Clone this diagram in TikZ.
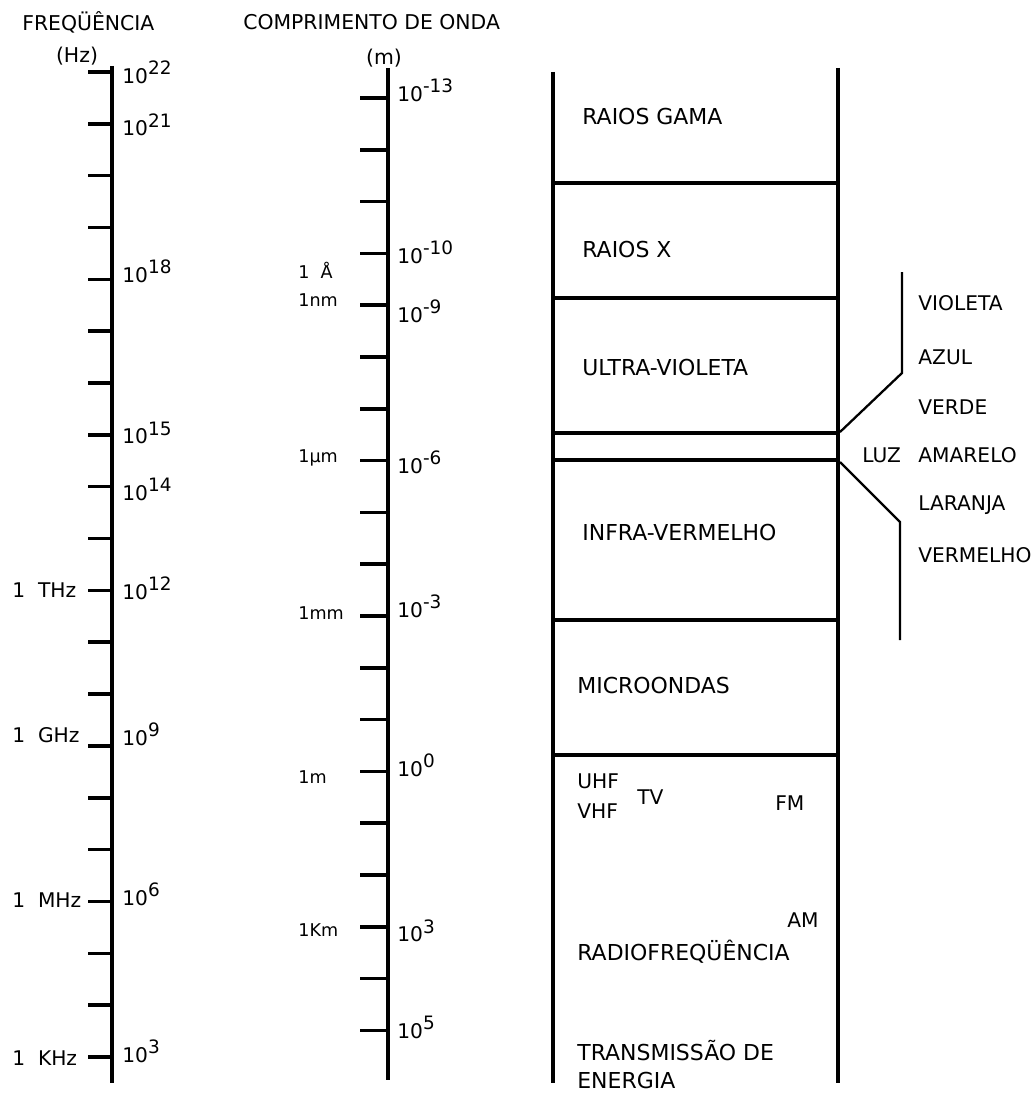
\documentclass[tikz,border=0pt]{standalone}
\usepackage{fontspec}
\setmainfont{DejaVu Sans}

\newcommand{\pot}[1]{10\raisebox{0.8ex}{\fontsize{10.5}{11}\selectfont #1}}

\begin{document}
\begin{tikzpicture}[x=0.02cm, y=-0.02cm,
    axisline/.style={line width=2pt},
    tickline/.style={line width=2pt},
    band/.style={line width=1.8pt},
    bracket/.style={line width=1.3pt},
    lbl/.style={inner sep=0pt, anchor=west, font=\fontsize{12.5}{14}\selectfont},
    colour/.style={inner sep=0pt, anchor=west, font=\fontsize{11.5}{13}\selectfont},
    unit/.style={inner sep=0pt, anchor=west, font=\fontsize{10}{12}\selectfont},
    valor/.style={inner sep=0pt, anchor=west, font=\fontsize{11.5}{13}\selectfont},
    head/.style={inner sep=0pt, font=\fontsize{11.6}{13}\selectfont}]
  \useasboundingbox (0,0) rectangle (1035,1095);

  \node[head, anchor=west] (fhead) at (22,22) {FREQÜÊNCIA};
  \node[head] (fhz) at (77,56) {(Hz)};
  \node[head, anchor=west] (lhead) at (243,22) {COMPRIMENTO DE ONDA};
  \node[head] (lm) at (384,58) {(m)};

  \coordinate (ftop) at (112,66);
  \coordinate (fbot) at (112,1083);
  \draw[axisline] (ftop) -- (fbot);
  \foreach \n in {3,...,22}
    \draw[tickline] (88,{72+51.84*(22-\n)}) -- (112,{72+51.84*(22-\n)});
  \foreach \n/\dy in {22/0,21/1,18/-8,15/-2,14/3,12/-2,9/-12,6/-7,3/-6}
    \node[valor] (f\n) at (122,{72+51.84*(22-\n)+\dy}) {\pot{\n}};
  \node[valor] (thz) at (12,590) {1~~THz};
  \node[valor] (ghz) at (12,735) {1~~GHz};
  \node[valor] (mhz) at (12,900) {1~~MHz};
  \node[valor] (khz) at (12,1058) {1~~KHz};

  \coordinate (ltop) at (388,68);
  \coordinate (lbot) at (388,1080);
  \draw[axisline] (ltop) -- (lbot);
  \foreach \k in {-13,...,5}
    \draw[tickline] (360,{98+51.8*(\k+13)}) -- (388,{98+51.8*(\k+13)});
  \foreach \k/\dy in {-13/-8,-10/-1,-9/6,-6/2,-3/-10,0/-6,3/4,5/-3}
    \node[valor] (l\k) at (397,{98+51.8*(\k+13)+\dy}) {\pot{\k}};
  \node[unit] (ang) at (298,270) {1~~Å};
  \node[unit] (nm) at (298,300) {1nm};
  \node[unit] (um) at (298,458) {1µm};
  \node[unit] (mm) at (298,613) {1mm};
  \node[unit] (me) at (298,777) {1m};
  \node[unit] (km) at (298,930) {1Km};

  \draw[band] (553,72) -- (553,1083);
  \draw[band] (838,68) -- (838,1083);
  \foreach \y in {183,298,433,460,620,755}
    \draw[band] (553,\y) -- (838,\y);

  \node[lbl] (gama) at (582,117) {RAIOS GAMA};
  \node[lbl] (raiox) at (582,250) {RAIOS X};
  \node[lbl] (uv) at (582,368) {ULTRA-VIOLETA};
  \node[lbl] (iv) at (582,533) {INFRA-VERMELHO};
  \node[lbl] (micro) at (577,685) {MICROONDAS};
  \node[colour] (uhf) at (577,781) {UHF};
  \node[colour] (vhf) at (577,811) {VHF};
  \node[colour] (tv) at (637,797) {TV};
  \node[colour] (fm) at (775,803) {FM};
  \node[colour] (am) at (787,920) {AM};
  \node[lbl] (radio) at (577,952) {RADIOFREQÜÊNCIA};
  \node[lbl] (trans) at (577,1051) {TRANSMISSÃO DE};
  \node[lbl] (energia) at (577,1080) {ENERGIA};

  \coordinate (uvbot) at (840,432);
  \coordinate (ivtop) at (840,462);
  \draw[bracket] (902,272) -- (902,373) -- (uvbot);
  \draw[bracket] (ivtop) -- (900,522) -- (900,640);

  \node[colour] (violeta) at (918,303) {VIOLETA};
  \node[colour] (azul) at (918,357) {AZUL};
  \node[colour] (verde) at (918,407) {VERDE};
  \node[colour] (luz) at (862,455) {LUZ};
  \node[colour] (amarelo) at (918,455) {AMARELO};
  \node[colour] (laranja) at (918,505) {LARANJA};
  \node[colour] (vermelho) at (918,555) {VERMELHO};
\end{tikzpicture}
\end{document}
